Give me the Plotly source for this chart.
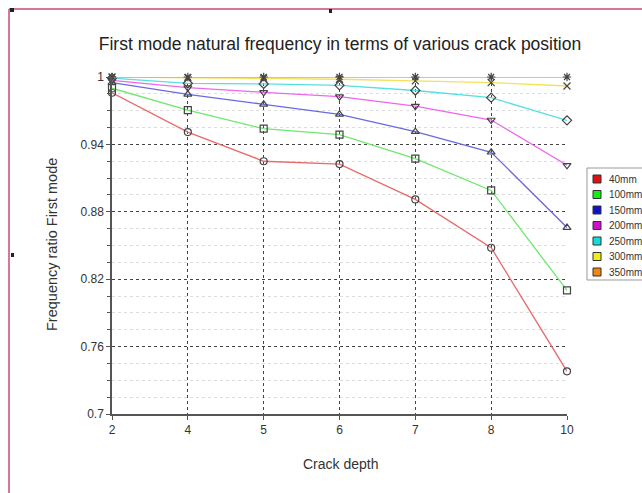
import plotly.graph_objects as go

categories = ["2", "4", "5", "6", "7", "8", "10"]
series_names = ["40mm", "100mm", "150mm", "200mm", "250mm", "300mm", "350mm"]
s40 = [0.986, 0.951, 0.925, 0.9225, 0.891, 0.848, 0.738]
s100 = [0.990, 0.9705, 0.954, 0.9487, 0.9273, 0.899, 0.810]
s150 = [0.995, 0.9846, 0.9757, 0.9668, 0.9513, 0.933, 0.866]
s200 = [0.997, 0.9905, 0.9864, 0.9825, 0.974, 0.9617, 0.9214]
s250 = [0.999, 0.9944, 0.9938, 0.9926, 0.988, 0.9816, 0.9614]
s300 = [1.0, 0.9995, 0.999, 0.998, 0.9965, 0.995, 0.992]
s350 = [1.0, 1.0, 1.0, 1.0, 1.0, 1.0, 1.0]
all_series = [s40, s100, s150, s200, s250, s300, s350]

line_colors = ["#e86a6a", "#6ee86e", "#6a6ae0", "#ee66ee", "#55e0e0", "#f2e25a", "#f2a640"]
swatch_colors = ["#dd1111", "#11ee11", "#1111cc", "#cc11cc", "#11dddd", "#eeee11", "#ee8811"]
symbols = ["circle-open", "square-open", "triangle-up-open", "triangle-down-open",
           "diamond-open", "x-thin-open", "asterisk-open"]

fig = go.Figure()
for name, vals, lc, sym in zip(series_names, all_series, line_colors, symbols):
    fig.add_trace(go.Scatter(
        x=categories, y=vals, mode="lines+markers", name=name, showlegend=False,
        line=dict(color=lc, width=1.3),
        marker=dict(symbol=sym, size=7, color="#444444", line=dict(color="#444444", width=1.2)),
        cliponaxis=False,
    ))

font_family = "Liberation Sans, Arial, sans-serif"

def px_x(px):
    return (px - 112) / 455.0

def px_y(py):
    return (414 - py) / 337.0

shapes = [
    dict(type="line", xref="paper", yref="paper", x0=px_x(9), x1=px_x(642), y0=px_y(9), y1=px_y(9),
         line=dict(color="#c94a72", width=1.5)),
    dict(type="line", xref="paper", yref="paper", x0=px_x(9), x1=px_x(9), y0=px_y(9), y1=px_y(493),
         line=dict(color="#c94a72", width=1.5)),
    dict(type="rect", xref="paper", yref="paper", x0=px_x(10), x1=px_x(14), y0=px_y(8), y1=px_y(12),
         fillcolor="#222222", line=dict(width=0)),
    dict(type="rect", xref="paper", yref="paper", x0=px_x(329), x1=px_x(332), y0=px_y(9), y1=px_y(13),
         fillcolor="#222222", line=dict(width=0)),
    dict(type="rect", xref="paper", yref="paper", x0=px_x(11), x1=px_x(14), y0=px_y(253), y1=px_y(257),
         fillcolor="#222222", line=dict(width=0)),
    # legend box
    dict(type="rect", xref="paper", yref="paper", x0=px_x(587), x1=px_x(660), y0=px_y(168), y1=px_y(280),
         fillcolor="white", line=dict(color="#999999", width=1)),
]
annotations = []
for i, (name, sc) in enumerate(zip(series_names, swatch_colors)):
    cy = 179 + i * 15.5
    shapes.append(dict(type="rect", xref="paper", yref="paper",
                       x0=px_x(593), x1=px_x(601), y0=px_y(cy - 4), y1=px_y(cy + 4),
                       fillcolor=sc, line=dict(color="#333333", width=1)))
    annotations.append(dict(text=name, xref="paper", yref="paper", x=px_x(607), y=px_y(cy),
                            xanchor="left", yanchor="middle", showarrow=False,
                            font=dict(size=10, color="#333333", family=font_family)))

annotations.append(dict(text="Frequency ratio First mode", xref="paper", yref="paper",
                        x=px_x(52), y=px_y(245), xanchor="center", yanchor="middle",
                        textangle=-90, showarrow=False,
                        font=dict(size=14.5, color="#333333", family=font_family)))
annotations.append(dict(text="Crack depth", xref="paper", yref="paper",
                        x=px_x(340), y=px_y(464), xanchor="center", yanchor="middle",
                        showarrow=False,
                        font=dict(size=14, color="#333333", family=font_family)))

fig.update_layout(
    width=642, height=493,
    margin=dict(l=112, r=75, t=77, b=79, autoexpand=False),
    paper_bgcolor="white", plot_bgcolor="white",
    showlegend=False,
    font=dict(family=font_family, size=12, color="#333333"),
    title=dict(text="First mode natural frequency in terms of various crack position",
               x=px_x(340), xanchor="center", xref="paper", y=1 - 44 / 493, yanchor="middle",
               font=dict(size=17.5, color="#222222", family=font_family)),
    xaxis=dict(
        type="category", range=[0, 6],
        showgrid=True, gridcolor="#444444", griddash="dot", gridwidth=1,
        showline=True, linecolor="#555555", linewidth=1.5,
        ticks="outside", ticklen=4, tickcolor="#555555", zeroline=False,
        tickfont=dict(size=12),
    ),
    yaxis=dict(
        range=[0.7, 1.0], tickvals=[0.7, 0.76, 0.82, 0.88, 0.94, 1.0],
        ticktext=["0.7", "0.76", "0.82", "0.88", "0.94", "1"],
        showgrid=True, gridcolor="#444444", griddash="dot", gridwidth=1,
        showline=True, linecolor="#555555", linewidth=1.5,
        ticks="outside", ticklen=4, tickcolor="#555555", zeroline=False,
        tickfont=dict(size=12),
        minor=dict(dtick=0.015, tick0=0.7, showgrid=True, gridcolor="#dddddd", gridwidth=1,
                   ticks="outside", ticklen=3, tickcolor="#555555"),
    ),
    shapes=shapes,
    annotations=annotations,
)

fig.write_html("out.html")
